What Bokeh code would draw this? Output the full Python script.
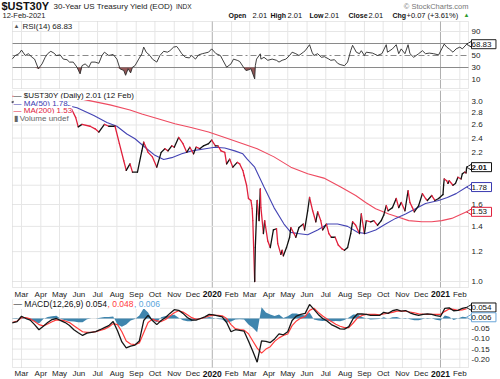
import numpy as np
import pandas as pd
from bokeh.plotting import figure
from bokeh.layouts import column
from bokeh.models import Range1d, Label, BoxAnnotation, LogScale
from bokeh.core.properties import value
from bokeh.embed import file_html
from bokeh.resources import INLINE

FONT = "Liberation Sans"

# ---------------- data ----------------
price_dates = [
    "2019-02-14", "2019-02-21", "2019-03-01", "2019-03-08", "2019-03-15", "2019-03-22", "2019-03-28",
    "2019-04-05", "2019-04-12", "2019-04-17", "2019-04-26", "2019-05-03", "2019-05-10", "2019-05-21",
    "2019-05-27", "2019-05-31", "2019-06-06", "2019-06-19", "2019-06-27", "2019-07-03", "2019-07-12",
    "2019-07-19", "2019-07-29", "2019-08-05", "2019-08-12", "2019-08-16", "2019-08-22", "2019-08-26",
    "2019-09-03", "2019-09-10", "2019-09-13", "2019-09-20", "2019-09-27", "2019-10-04", "2019-10-11",
    "2019-10-17", "2019-10-22", "2019-10-28", "2019-11-01", "2019-11-08", "2019-11-15", "2019-11-21",
    "2019-11-26", "2019-12-02", "2019-12-06", "2019-12-12", "2019-12-18", "2019-12-26", "2019-12-31",
    "2020-01-06", "2020-01-10", "2020-01-15", "2020-01-21", "2020-01-24", "2020-01-29", "2020-02-03",
    "2020-02-10", "2020-02-14", "2020-02-19", "2020-02-21", "2020-02-25", "2020-02-28", "2020-03-03",
    "2020-03-05", "2020-03-06", "2020-03-09", "2020-03-10", "2020-03-12", "2020-03-13", "2020-03-16",
    "2020-03-18", "2020-03-19", "2020-03-23", "2020-03-25", "2020-03-30", "2020-04-03", "2020-04-08",
    "2020-04-13", "2020-04-15", "2020-04-20", "2020-04-22", "2020-04-24", "2020-04-29", "2020-05-04",
    "2020-05-06", "2020-05-11", "2020-05-14", "2020-05-19", "2020-05-26", "2020-05-28", "2020-06-02",
    "2020-06-05", "2020-06-10", "2020-06-15", "2020-06-18", "2020-06-23", "2020-06-26", "2020-07-02",
    "2020-07-06", "2020-07-10", "2020-07-16", "2020-07-21", "2020-07-27", "2020-07-31", "2020-08-05",
    "2020-08-10", "2020-08-13", "2020-08-18", "2020-08-24", "2020-08-27", "2020-09-01", "2020-09-04",
    "2020-09-11", "2020-09-16", "2020-09-22", "2020-09-28", "2020-10-02", "2020-10-06", "2020-10-09",
    "2020-10-16", "2020-10-22", "2020-10-26", "2020-10-30", "2020-11-05", "2020-11-10", "2020-11-13",
    "2020-11-17", "2020-11-20", "2020-11-27", "2020-12-03", "2020-12-08", "2020-12-11", "2020-12-18",
    "2020-12-23", "2020-12-29", "2021-01-05", "2021-01-06", "2021-01-07", "2021-01-11", "2021-01-13",
    "2021-01-15", "2021-01-21", "2021-01-25", "2021-01-29", "2021-02-03", "2021-02-05", "2021-02-09",
    "2021-02-11", "2021-02-12",
]
price_vals = [
    2.99, 3.02, 3.07, 3.01, 3.02, 2.88, 2.81,
    2.91, 2.96, 3.00, 2.88, 2.93, 2.87, 2.85,
    2.72, 2.57, 2.61, 2.58, 2.54, 2.49, 2.61,
    2.58, 2.58, 2.32, 2.09, 1.97, 2.05, 1.95,
    1.95, 2.22, 2.34, 2.20, 2.14, 2.01, 2.20,
    2.25, 2.22, 2.29, 2.27, 2.41, 2.32, 2.20,
    2.27, 2.18, 2.27, 2.25, 2.29, 2.32, 2.37,
    2.29, 2.29, 2.22, 2.20, 2.05, 2.11, 2.01,
    2.07, 2.05, 1.97, 1.91, 1.80, 1.66, 1.64,
    1.56, 1.45, 1.00, 1.23, 1.51, 1.64, 1.45,
    1.76, 1.57, 1.34, 1.45, 1.28, 1.23, 1.37,
    1.38, 1.26, 1.18, 1.21, 1.17, 1.23, 1.31,
    1.39, 1.34, 1.31, 1.39, 1.42, 1.37, 1.54,
    1.67, 1.54, 1.44, 1.53, 1.45, 1.37, 1.42,
    1.34, 1.31, 1.31, 1.25, 1.22, 1.21, 1.23,
    1.34, 1.44, 1.41, 1.34, 1.51, 1.34, 1.45,
    1.44, 1.45, 1.41, 1.45, 1.50, 1.59, 1.54,
    1.57, 1.66, 1.57, 1.62, 1.54, 1.74, 1.62,
    1.57, 1.53, 1.59, 1.71, 1.66, 1.64, 1.69,
    1.64, 1.66, 1.70, 1.80, 1.87, 1.85, 1.82,
    1.85, 1.80, 1.82, 1.89, 1.87, 1.93, 1.95,
    1.94, 2.01,
]

ma50_dates = [
    "2019-02-14", "2019-03-15", "2019-04-15", "2019-05-05", "2019-05-29", "2019-06-25", "2019-07-16",
    "2019-08-01", "2019-08-17", "2019-08-30", "2019-09-15", "2019-10-01", "2019-10-15", "2019-10-28",
    "2019-11-13", "2019-11-29", "2019-12-21", "2020-01-05", "2020-01-21", "2020-02-06", "2020-02-19",
    "2020-02-26", "2020-03-09", "2020-03-24", "2020-04-09", "2020-04-25", "2020-05-06", "2020-05-17",
    "2020-06-02", "2020-06-18", "2020-07-04", "2020-07-20", "2020-08-05", "2020-08-21", "2020-09-03",
    "2020-09-19", "2020-10-05", "2020-10-21", "2020-11-06", "2020-11-22", "2020-12-08", "2020-12-29",
    "2021-01-12", "2021-01-26", "2021-02-12",
]
ma50_vals = [
    2.98, 3.02, 3.00, 2.95, 2.89, 2.755, 2.64,
    2.58, 2.46, 2.39, 2.27, 2.16, 2.105, 2.13,
    2.18, 2.22, 2.25, 2.27, 2.26, 2.22, 2.18,
    2.11, 2.01, 1.78, 1.57, 1.42, 1.35, 1.34,
    1.33, 1.37, 1.42, 1.42, 1.40, 1.35, 1.34,
    1.37, 1.42, 1.47, 1.51, 1.56, 1.61, 1.64,
    1.67, 1.71, 1.78,
]

ma200_dates = [
    "2019-02-14", "2019-04-01", "2019-05-10", "2019-06-08", "2019-07-21", "2019-08-22", "2019-09-10",
    "2019-10-06", "2019-11-02", "2019-11-28", "2019-12-26", "2020-01-21", "2020-02-19", "2020-03-13",
    "2020-04-09", "2020-05-06", "2020-06-02", "2020-06-28", "2020-07-25", "2020-08-18", "2020-09-03",
    "2020-09-19", "2020-10-10", "2020-10-26", "2020-11-11", "2020-12-02", "2020-12-18", "2021-01-03",
    "2021-01-19", "2021-02-12",
]
ma200_vals = [
    3.10, 3.09, 3.07, 3.04, 2.94, 2.85, 2.78,
    2.70, 2.62, 2.56, 2.49, 2.41, 2.32, 2.25,
    2.14, 2.01, 1.93, 1.88, 1.78, 1.69, 1.62,
    1.56, 1.51, 1.48, 1.45, 1.44, 1.44, 1.45,
    1.47, 1.53,
]

rsi_dates = [
    "2019-02-14", "2019-02-19", "2019-02-25", "2019-03-01", "2019-03-07", "2019-03-12", "2019-03-18",
    "2019-03-22", "2019-03-28", "2019-04-03", "2019-04-08", "2019-04-12", "2019-04-17", "2019-04-22",
    "2019-04-26", "2019-05-02", "2019-05-07", "2019-05-13", "2019-05-17", "2019-05-23", "2019-05-29",
    "2019-06-03", "2019-06-06", "2019-06-11", "2019-06-17", "2019-06-21", "2019-06-27", "2019-07-03",
    "2019-07-08", "2019-07-12", "2019-07-19", "2019-07-26", "2019-08-01", "2019-08-06", "2019-08-12",
    "2019-08-15", "2019-08-19", "2019-08-23", "2019-08-26", "2019-08-30", "2019-09-05", "2019-09-10",
    "2019-09-13", "2019-09-17", "2019-09-23", "2019-09-27", "2019-10-04", "2019-10-09", "2019-10-15",
    "2019-10-21", "2019-10-25", "2019-10-31", "2019-11-05", "2019-11-08", "2019-11-13", "2019-11-19",
    "2019-11-25", "2019-11-29", "2019-12-05", "2019-12-10", "2019-12-16", "2019-12-20", "2019-12-26",
    "2019-12-31", "2020-01-07", "2020-01-14", "2020-01-17", "2020-01-24", "2020-01-31", "2020-02-04",
    "2020-02-10", "2020-02-14", "2020-02-20", "2020-02-24", "2020-02-28", "2020-03-03", "2020-03-09",
    "2020-03-10", "2020-03-12", "2020-03-18", "2020-03-19", "2020-03-24", "2020-03-30", "2020-04-06",
    "2020-04-13", "2020-04-17", "2020-04-22", "2020-04-28", "2020-05-04", "2020-05-08", "2020-05-14",
    "2020-05-19", "2020-05-26", "2020-05-29", "2020-06-05", "2020-06-09", "2020-06-12", "2020-06-18",
    "2020-06-24", "2020-06-29", "2020-07-06", "2020-07-09", "2020-07-15", "2020-07-20", "2020-07-24",
    "2020-07-31", "2020-08-05", "2020-08-10", "2020-08-13", "2020-08-19", "2020-08-24", "2020-08-27",
    "2020-09-01", "2020-09-04", "2020-09-14", "2020-09-22", "2020-09-29", "2020-10-06", "2020-10-08",
    "2020-10-16", "2020-10-22", "2020-10-26", "2020-10-30", "2020-11-05", "2020-11-10", "2020-11-13",
    "2020-11-19", "2020-11-27", "2020-12-03", "2020-12-08", "2020-12-14", "2020-12-21", "2020-12-29",
    "2021-01-07", "2021-01-11", "2021-01-15", "2021-01-21", "2021-01-26", "2021-02-01", "2021-02-05",
    "2021-02-12",
]
rsi_vals = [
    44, 50, 53, 59, 50, 53, 47,
    44, 28, 36, 47, 53, 57, 54,
    50, 51, 44, 43, 39, 39, 30.5,
    19.4, 33, 36, 30.5, 39, 39, 37,
    50, 55.5, 50, 51.7, 44, 27.8, 25,
    17, 28, 21, 30.5, 33, 44, 52.8,
    64, 55.5, 50, 44, 39, 50, 57,
    55.5, 58, 64, 65, 61, 53, 47,
    46, 50, 44, 51, 53, 54, 55.5,
    61, 53, 50, 44, 30.5, 36, 44,
    42, 40, 30.5, 25, 26, 28, 11,
    33, 44, 52.8, 44, 47, 42, 44,
    42, 39, 42, 44, 50, 55.5, 53,
    50, 55.5, 58, 68, 55.5, 50, 53,
    47, 48, 44, 42, 43, 37, 35,
    33, 39, 58, 67, 55.5, 53, 58,
    50, 55.5, 54, 50, 53, 68, 55.5,
    61, 68, 53, 61, 53, 68, 53,
    47, 53, 58, 53, 54, 53, 51,
    69, 64, 61, 55.5, 61, 64, 61,
    68.83,
]

macd_dates = [
    "2019-02-14", "2019-02-22", "2019-03-01", "2019-03-08", "2019-03-15", "2019-03-22", "2019-03-29",
    "2019-04-05", "2019-04-12", "2019-04-19", "2019-04-26", "2019-05-03", "2019-05-10", "2019-05-17",
    "2019-05-24", "2019-05-31", "2019-06-07", "2019-06-14", "2019-06-21", "2019-06-28", "2019-07-05",
    "2019-07-12", "2019-07-19", "2019-07-26", "2019-08-02", "2019-08-09", "2019-08-16", "2019-08-23",
    "2019-08-30", "2019-09-06", "2019-09-13", "2019-09-20", "2019-09-27", "2019-10-04", "2019-10-11",
    "2019-10-18", "2019-10-25", "2019-11-01", "2019-11-08", "2019-11-15", "2019-11-22", "2019-11-29",
    "2019-12-06", "2019-12-13", "2019-12-20", "2019-12-27", "2020-01-03", "2020-01-10", "2020-01-17",
    "2020-01-24", "2020-01-31", "2020-02-07", "2020-02-14", "2020-02-21", "2020-02-28", "2020-03-06",
    "2020-03-13", "2020-03-20", "2020-03-27", "2020-04-03", "2020-04-10", "2020-04-17", "2020-04-24",
    "2020-05-01", "2020-05-08", "2020-05-15", "2020-05-22", "2020-05-29", "2020-06-05", "2020-06-12",
    "2020-06-19", "2020-06-26", "2020-07-03", "2020-07-10", "2020-07-17", "2020-07-24", "2020-07-31",
    "2020-08-07", "2020-08-14", "2020-08-21", "2020-08-28", "2020-09-04", "2020-09-11", "2020-09-18",
    "2020-09-25", "2020-10-02", "2020-10-09", "2020-10-16", "2020-10-23", "2020-10-30", "2020-11-06",
    "2020-11-13", "2020-11-20", "2020-11-27", "2020-12-04", "2020-12-11", "2020-12-18", "2020-12-25",
    "2021-01-01", "2021-01-08", "2021-01-15", "2021-01-22", "2021-01-29", "2021-02-05", "2021-02-12",
]
macd_vals = [
    -0.021, -0.015, 0.011, 0.000, -0.008, -0.030, -0.055,
    -0.038, -0.020, -0.005, 0.000, -0.010, -0.020, -0.034,
    -0.055, -0.070, -0.083, -0.072, -0.068, -0.064, -0.055,
    -0.045, -0.035, -0.015, -0.060, -0.115, -0.144, -0.135,
    -0.130, -0.110, -0.010, 0.015, -0.010, -0.030, -0.010,
    0.005, 0.025, 0.043, 0.040, 0.025, 0.005, -0.008,
    -0.008, 0.000, 0.008, 0.020, 0.018, 0.013, 0.008,
    -0.020, -0.065, -0.055, -0.058, -0.062, -0.110, -0.160,
    -0.214, -0.110, -0.112, -0.118, -0.100, -0.075, -0.080,
    -0.065, -0.010, 0.012, 0.020, 0.025, 0.069, 0.045,
    0.020, 0.000, -0.012, -0.030, -0.040, -0.051, -0.052,
    -0.040, 0.000, 0.023, 0.022, 0.020, 0.015, 0.015,
    0.015, 0.030, 0.025, 0.038, 0.043, 0.036, 0.039,
    0.028, 0.020, 0.015, 0.020, 0.023, 0.020, 0.014,
    0.010, 0.050, 0.052, 0.038, 0.040, 0.050, 0.054,
]
signal_vals = [
    -0.020, -0.012, 0.004, 0.004, -0.002, -0.015, -0.030,
    -0.036, -0.027, -0.016, -0.007, -0.008, -0.012, -0.020,
    -0.035, -0.050, -0.065, -0.068, -0.068, -0.064, -0.059,
    -0.052, -0.042, -0.025, -0.030, -0.065, -0.110, -0.125,
    -0.128, -0.120, -0.070, -0.020, -0.003, -0.012, -0.015,
    -0.005, 0.012, 0.028, 0.038, 0.032, 0.018, 0.004,
    -0.004, -0.001, 0.005, 0.013, 0.015, 0.015, 0.013,
    0.000, -0.030, -0.050, -0.054, -0.057, -0.075, -0.110,
    -0.145, -0.170, -0.150, -0.138, -0.112, -0.095, -0.083,
    -0.076, -0.035, -0.012, 0.002, 0.010, 0.040, 0.050,
    0.030, 0.012, -0.002, -0.015, -0.028, -0.038, -0.045,
    -0.045, -0.022, 0.003, 0.015, 0.020, 0.020, 0.020,
    0.018, 0.022, 0.026, 0.030, 0.036, 0.036, 0.036,
    0.032, 0.028, 0.023, 0.021, 0.020, 0.020, 0.020,
    0.020, 0.035, 0.047, 0.045, 0.040, 0.042, 0.048,
]
hist_vals = [
    -0.001, -0.003, 0.008, -0.004, -0.006, -0.015, -0.025,
    -0.002, 0.007, 0.011, 0.013, -0.002, -0.008, -0.014,
    -0.015, -0.018, -0.018, -0.004, 0.000, 0.000, 0.004,
    0.007, 0.007, 0.010, -0.030, -0.040, -0.030, -0.010,
    -0.002, 0.015, 0.050, 0.030, -0.007, -0.018, 0.006,
    0.012, 0.015, 0.018, 0.004, -0.008, -0.014, -0.014,
    -0.004, 0.001, 0.003, 0.007, 0.003, -0.002, -0.005,
    -0.020, -0.015, -0.005, -0.004, -0.005, -0.030, -0.045,
    -0.067, 0.055, 0.030, 0.020, 0.012, 0.020, 0.003,
    0.011, 0.024, 0.024, 0.018, 0.015, 0.029, -0.005,
    -0.010, -0.012, -0.010, -0.015, -0.012, -0.013, -0.007,
    0.005, 0.020, 0.020, 0.007, 0.000, -0.005, -0.004,
    -0.003, 0.006, -0.001, 0.006, 0.007, 0.000, 0.003,
    -0.004, -0.008, -0.008, -0.003, 0.003, 0.000, -0.006,
    -0.010, 0.015, 0.008, -0.007, 0.000, 0.008, 0.006,
]

month_ticks = [
    "2019-03-01", "2019-04-01", "2019-05-01", "2019-06-01", "2019-07-01", "2019-08-01",
    "2019-09-01", "2019-10-01", "2019-11-01", "2019-12-01", "2020-01-01", "2020-02-01",
    "2020-03-01", "2020-04-01", "2020-05-01", "2020-06-01", "2020-07-01", "2020-08-01",
    "2020-09-01", "2020-10-01", "2020-11-01", "2020-12-01", "2021-01-01", "2021-02-01",
]
month_labels = [
    "Mar", "Apr", "May", "Jun", "Jul", "Aug", "Sep", "Oct", "Nov", "Dec", "2020", "Feb",
    "Mar", "Apr", "May", "Jun", "Jul", "Aug", "Sep", "Oct", "Nov", "Dec", "2021", "Feb",
]
rsi_ticks = [10, 30, 50, 90]
rsi_grid = [10, 90]
price_ticks = [1.0, 1.2, 1.4, 1.6, 2.2, 2.4, 2.6, 2.8, 3.0]
price_grid = [1.0, 1.2, 1.4, 1.6, 1.8, 2.0, 2.2, 2.4, 2.6, 2.8, 3.0]
macd_ticks = [-0.20, -0.15, -0.10, -0.05]
macd_grid = [-0.20, -0.15, -0.10, -0.05, 0.0, 0.05]

# ---------------- geometry (pixel layout of the page) ----------------
W = 500
PX_PER_DAY = 0.6235
ANCHOR = pd.Timestamp("2019-03-01")      # sits at page x = 21


def x_at(px):
    return ANCHOR + pd.Timedelta(days=(px - 21) / PX_PER_DAY)


PL, PR = x_at(12), x_at(468)             # panel left / right edge
xr = Range1d(start=x_at(0), end=x_at(W))


def rsi_v(Y):                            # page y -> RSI value
    return (85 - Y) / 0.6


def main_v(Y):                           # page y -> yield (log scale)
    return float(np.exp((281 - Y) / 163.8))


def macd_v(Y):                           # page y -> MACD value
    return (318 - Y) / 204


GRID = "#e6e6e6"
YEARLINE = "#b0b0b0"
OUTLINE = "#b4b4b4"
TXT = "#222222"
tick_dt = pd.to_datetime(month_ticks)
is_year = [lab.isdigit() for lab in month_labels]


def make_fig(h, y0, y1, log=False):
    kw = dict(y_axis_type="log") if log else {}
    p = figure(width=W, height=h, x_range=xr, y_range=Range1d(y0, y1),
               x_axis_location=None, y_axis_location=None,
               output_backend="svg", toolbar_location=None,
               min_border=0, min_border_left=0, min_border_right=0,
               min_border_top=0, min_border_bottom=0, **kw)
    if log:
        p.y_scale = LogScale()
    p.grid.visible = False
    p.outline_line_color = None
    p.background_fill_color = "white"
    p.border_fill_color = "white"
    return p


def panel_frame(p, ybot, ytop, grid_vals):
    cols = [YEARLINE if y else GRID for y in is_year]
    p.segment(x0=tick_dt, x1=tick_dt, y0=[ybot] * len(tick_dt), y1=[ytop] * len(tick_dt),
              line_color=cols, line_width=1)
    n = len(grid_vals)
    p.segment(x0=[PL] * n, x1=[PR] * n, y0=grid_vals, y1=grid_vals, line_color=GRID, line_width=1)
    p.add_layout(BoxAnnotation(left=PL.value / 1e6, right=PR.value / 1e6, bottom=ybot, top=ytop,
                               fill_alpha=0, fill_color=None, line_color=OUTLINE, line_width=1))


def ytick_text(p, ticks, fmt):
    p.text(x=[PR] * len(ticks), y=ticks, text=[fmt % t for t in ticks], x_offset=3,
           text_font=value(FONT), text_font_size=value("8px"), text_color=TXT,
           text_align=value("left"), text_baseline=value("middle"))


def xtick_text(p, yv):
    m = [(d, l) for d, l, y in zip(tick_dt, month_labels, is_year) if not y]
    yr_ = [(d, l) for d, l, y in zip(tick_dt, month_labels, is_year) if y]
    p.text(x=[d for d, _ in m], y=[yv] * len(m), text=[l for _, l in m],
           text_font=value(FONT), text_font_size=value("8px"), text_color=TXT,
           text_align=value("center"), text_baseline=value("middle"))
    p.text(x=[d for d, _ in yr_], y=[yv] * len(yr_), text=[l for _, l in yr_],
           text_font=value(FONT), text_font_size=value("8.5px"), text_color="#111111",
           text_font_style=value("bold"), text_align=value("center"), text_baseline=value("middle"))


def tag(p, yv, text, border, bold=False):
    # small pointer on the left of the value box
    p.scatter(x=[x_at(470)], y=[yv], marker="triangle", size=7, angle=np.pi / 2,
              fill_color="white", line_color=border, line_width=1)
    p.add_layout(Label(x=471, y=yv, x_units="screen", y_units="data", text=" " + text + " ",
                       text_font=FONT, text_font_size="8px", text_baseline="middle",
                       text_font_style="bold" if bold else "normal", text_color="#111111",
                       background_fill_color="white", border_line_color=border,
                       border_line_width=1))


def lab(p, h, x, Y, text, size="8px", color=TXT, bold=False, align="left", bg=None):
    p.add_layout(Label(x=x, y=h - Y, x_units="screen", y_units="screen", text=text,
                       text_font=FONT, text_font_size=size, text_color=color,
                       text_font_style="bold" if bold else "normal",
                       text_align=align, text_baseline="middle",
                       background_fill_color=bg))


# ---------------- header + RSI panel (page y 0..90) ----------------
H1 = 90
p1 = make_fig(H1, rsi_v(H1), rsi_v(0))
panel_frame(p1, rsi_v(88), rsi_v(21), rsi_grid)
n = 2
p1.segment(x0=[PL] * n, x1=[PR] * n, y0=[30, 70], y1=[30, 70], line_color="#8a8a8a", line_width=1)
p1.segment(x0=[PL], x1=[PR], y0=[50], y1=[50], line_color="#8a8a8a", line_width=1,
           line_dash="6 3 2 3")
rdt = pd.to_datetime(rsi_dates)
rv = np.array(rsi_vals, dtype=float)
p1.varea(x=rdt, y1=np.minimum(rv, 30), y2=30, fill_color="#8e4f4f", fill_alpha=0.95)
p1.line(rdt, rv, line_color="#2a2a2a", line_width=0.9)
ytick_text(p1, rsi_ticks, "%d")
tag(p1, rsi_vals[-1], "68.83", "#222222")

lab(p1, H1, 1, 5.5, "$UST30Y", size="11px", bold=True, color="#111111")
lab(p1, H1, 53, 5.5, "30-Year US Treasury Yield (EOD)", size="8px")
lab(p1, H1, 175.5, 6, "INDX", size="6.5px")
lab(p1, H1, 468, 6, "\u00a9 StockCharts.com", size="7.5px", color="#777777", align="right")
lab(p1, H1, 2, 15, "12-Feb-2021", size="7.5px")
hdr = [("Open", True, 228), ("2.01", False, 252), ("High", True, 270), ("2.01", False, 287),
       ("Low", True, 309), ("2.01", False, 324), ("Close", True, 348), ("2.01", False, 368),
       ("Chg", True, 392), ("+0.07 (+3.61%)", False, 406)]
for txt, b, cx in hdr:
    lab(p1, H1, cx, 15, txt, size="7px" if b else "7.5px", bold=b, color="#111111")
lab(p1, H1, 463, 14.5, "\u25b2", size="6px", color="#2e9a2e")
lab(p1, H1, 13, 25.5, "\u25b2", size="6px", color="#555555")
lab(p1, H1, 22, 25.5, "RSI(14) 68.83", size="8px", bg="white")

# ---------------- price panel (page y 90..299) ----------------
T2, H2 = 90, 209
p2 = make_fig(H2, main_v(T2 + H2), main_v(T2), log=True)
panel_frame(p2, main_v(287), main_v(90), price_grid)
p2.line(pd.to_datetime(ma200_dates), ma200_vals, line_color="#ee4a60", line_width=1.1)
p2.line(pd.to_datetime(ma50_dates), ma50_vals, line_color="#4444b4", line_width=1.1)
pdt = pd.to_datetime(price_dates)
pv = np.array(price_vals, dtype=float)
seg_col = ["#111111" if b >= a else "#e0203c" for a, b in zip(pv[:-1], pv[1:])]
p2.segment(x0=pdt[:-1], y0=pv[:-1], x1=pdt[1:], y1=pv[1:], line_color=seg_col,
           line_width=1.3, line_cap="round")
ytick_text(p2, price_ticks, "%.1f")
xtick_text(p2, main_v(293.5))
tag(p2, price_vals[-1], "2.01", "#111111", bold=True)
tag(p2, ma50_vals[-1], "1.78", "#3a3ab0")
tag(p2, ma200_vals[-1], "1.53", "#e0203c")

lab(p2, H2, 13, 95 - T2, "\u2014 $UST30Y (Daily) 2.01 (12 Feb)", color="#111111", bg="white")
lab(p2, H2, 13, 102.5 - T2, "\u2014 MA(50) 1.78", color="#3a3ab0", bg="white")
lab(p2, H2, 13, 110 - T2, "\u2014 MA(200) 1.53", color="#e0203c", bg="white")
lab(p2, H2, 13, 117.5 - T2, "\u25ae Volume undef", color="#666666", bg="white")

# ---------------- MACD panel (page y 299..378) ----------------
T3, H3 = 299, 79
p3 = make_fig(H3, macd_v(T3 + H3), macd_v(T3))
panel_frame(p3, macd_v(367), macd_v(299), macd_grid)
mdt = pd.to_datetime(macd_dates)
p3.varea(x=mdt, y1=0, y2=hist_vals, fill_color="#2a78a4", fill_alpha=0.9)
p3.line(mdt, signal_vals, line_color="#ff3b3b", line_width=1.2)
p3.line(mdt, macd_vals, line_color="#161616", line_width=1.3)
ytick_text(p3, macd_ticks, "%.2f")
xtick_text(p3, macd_v(373))
tag(p3, macd_vals[-1], "0.054", "#111111")
tag(p3, hist_vals[-1], "0.006", "#6aa6d8")

lab(p3, H3, 13, 303.5 - T3, "\u2014 MACD(12,26,9) 0.054", size="8.5px", color="#111111", bg="white")
lab(p3, H3, 107, 303.5 - T3, ", 0.048", size="8.5px", color="#ff3b3b", bg="white")
lab(p3, H3, 133.5, 303.5 - T3, ", 0.006", size="8.5px", color="#5aa6dc", bg="white")

layout = column(p1, p2, p3, spacing=0)
open("out.html", "w").write(file_html(layout, INLINE))
